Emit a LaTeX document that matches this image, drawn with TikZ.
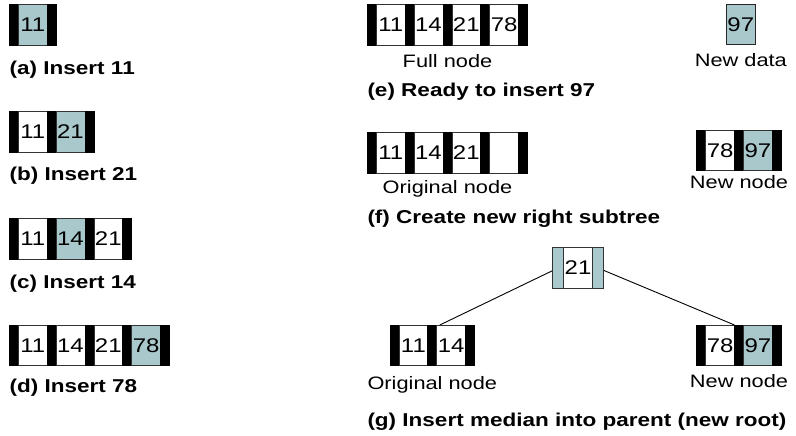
\documentclass[tikz,border=0pt]{standalone}
\usepackage{fontspec}
\setmainfont{Liberation Sans}[FakeStretch=1.21]
\definecolor{tealc}{HTML}{A9C8CC}
\newcommand\capfont{\fontsize{18.6}{20}\selectfont\bfseries}
\newcommand\lblfont{\fontsize{18}{20}\selectfont}
\newcommand\digfont{\fontsize{19.8}{20}\selectfont}
\pgfdeclarelayer{bg}\pgfsetlayers{bg,main}
\tikzset{
 barbox/.style={fill=black,draw=black,line width=0.7pt,minimum width=9pt,minimum height=40.7pt,inner sep=0pt,outer sep=0pt,anchor=west},
 cw/.style={fill=white,draw=black!80,line width=0.7pt,minimum width=28.8pt,minimum height=40.7pt,inner sep=0pt,outer sep=0pt,anchor=west,font=\digfont},
 captext/.style={anchor=base west,inner sep=0pt,font=\capfont},
 lbl/.style={anchor=base,inner sep=0pt,font=\lblfont},
 link/.style={line width=0.9pt}
}
\newcommand\btrow[4]{%
 \node[barbox] (#1-b0) at (#2,#3+20.35) {};
 \foreach \k/\v [count=\i] in {#4}{
   \node[cw,fill=\k] (#1-c\i) at ({#2+9+(\i-1)*37.8},{#3+20.35}) {\v};
   \node[barbox] (#1-b\i) at ({#2+\i*37.8},{#3+20.35}) {};
 }}
\begin{document}
\begin{tikzpicture}[x=1pt,y=-1pt]
\useasboundingbox (0,0) rectangle (796,436);
% (a)-(d)
\btrow{a}{9.3}{4.3}{tealc/11}
\node[captext] (capa) at (9.5,74.5) {(a) Insert 11};
\btrow{b}{9.3}{111.5}{white/11,tealc/21}
\node[captext] (capb) at (9.5,180) {(b) Insert 21};
\btrow{c}{9.3}{218.5}{white/11,tealc/14,white/21}
\node[captext] (capc) at (9.5,288) {(c) Insert 14};
\btrow{d}{9.3}{325}{white/11,white/14,white/21,tealc/78}
\node[captext] (capd) at (9.5,392.5) {(d) Insert 78};
% (e)
\btrow{e}{367.3}{4.3}{white/11,white/14,white/21,white/78}
\node[lbl] (le) at (447.5,68) {Full node};
\node[cw,fill=tealc,draw=black!85,minimum width=29.7pt,minimum height=39.6pt,anchor=center] (nd) at (740.8,24.5) {97};
\node[lbl] (lnd) at (740.8,67) {New data};
\node[captext] (cape) at (367.3,96.5) {(e) Ready to insert 97};
% (f)
\btrow{f}{367.3}{132.7}{white/11,white/14,white/21,white/{}}
\node[lbl] (lf) at (447.5,193.5) {Original node};
\btrow{fn}{696.7}{130}{white/78,tealc/97}
\node[lbl] (lfn) at (739,188.5) {New node};
\node[captext] (capf) at (367.3,223.5) {(f) Create new right subtree};
% (g)
\node[cw,fill=tealc,minimum width=10.7pt] (r-l) at (552.7,268) {};
\node[cw,minimum width=29.3pt] (r-c) at (r-l.east) {21};
\node[cw,fill=tealc,minimum width=10.7pt] (r-r) at (r-c.east) {};
\btrow{g}{390}{325}{white/11,white/14}
\node[lbl] (lg) at (432.3,389.5) {Original node};
\btrow{gn}{696.7}{325}{white/78,tealc/97}
\node[lbl] (lgn) at (739,387.5) {New node};
\node[captext] (capg) at (367.3,426) {(g) Insert median into parent (new root)};
\coordinate (gl) at ([xshift=3pt]g-c2.north west);
\begin{pgfonlayer}{bg}
\draw[link] (r-l.center) -- (gl);
\draw[link] (r-r.center) -- (gn-b1.north west);
\end{pgfonlayer}
\end{tikzpicture}
\end{document}
